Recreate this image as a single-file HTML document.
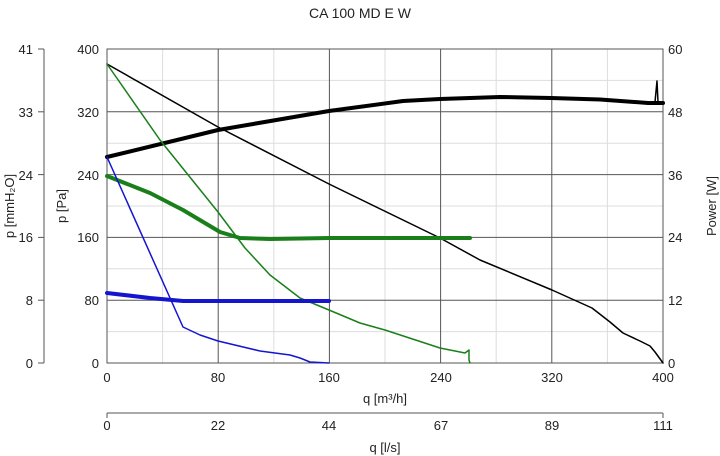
<!DOCTYPE html>
<html><head><meta charset="utf-8"><style>
body{margin:0;background:#fff;}
svg{display:block;font-family:"Liberation Sans",sans-serif;}
</style></head><body>
<svg width="720" height="456" xmlns="http://www.w3.org/2000/svg">
<rect width="720" height="456" fill="#fff"/>
<text x="360" y="18" font-size="14" text-anchor="middle" fill="#222">CA 100 MD E W</text>
<g stroke="#ddd" stroke-width="1">
<line x1="162.6" y1="49" x2="162.6" y2="363"/><line x1="273.8" y1="49" x2="273.8" y2="363"/>
<line x1="385" y1="49" x2="385" y2="363"/><line x1="496.2" y1="49" x2="496.2" y2="363"/>
<line x1="607.4" y1="49" x2="607.4" y2="363"/>
<line x1="107" y1="80.4" x2="663" y2="80.4"/><line x1="107" y1="143.2" x2="663" y2="143.2"/>
<line x1="107" y1="206" x2="663" y2="206"/><line x1="107" y1="268.8" x2="663" y2="268.8"/>
<line x1="107" y1="331.6" x2="663" y2="331.6"/>
</g>
<g stroke="#555" stroke-width="1">
<line x1="218.2" y1="49" x2="218.2" y2="363"/><line x1="329.4" y1="49" x2="329.4" y2="363"/>
<line x1="440.6" y1="49" x2="440.6" y2="363"/><line x1="551.8" y1="49" x2="551.8" y2="363"/>
<line x1="107" y1="111.8" x2="663" y2="111.8"/><line x1="107" y1="174.6" x2="663" y2="174.6"/>
<line x1="107" y1="237.4" x2="663" y2="237.4"/><line x1="107" y1="300.2" x2="663" y2="300.2"/>
<rect x="107" y="49" width="556" height="314" fill="none"/>
<line x1="44" y1="49" x2="44" y2="363"/>
<line x1="38" y1="49" x2="44" y2="49"/><line x1="38" y1="111.8" x2="44" y2="111.8"/><line x1="38" y1="174.6" x2="44" y2="174.6"/><line x1="38" y1="237.4" x2="44" y2="237.4"/><line x1="38" y1="300.2" x2="44" y2="300.2"/><line x1="38" y1="363" x2="44" y2="363"/>
<line x1="107" y1="413" x2="663" y2="413"/>
<line x1="107" y1="413" x2="107" y2="418"/><line x1="663" y1="413" x2="663" y2="418"/>
</g>
<g font-size="13" fill="#222" text-anchor="end">
<text x="33" y="54">41</text><text x="33" y="117">33</text><text x="33" y="180">24</text><text x="33" y="242">16</text><text x="33" y="305">8</text><text x="33" y="368">0</text>
<text x="99" y="54">400</text><text x="99" y="117">320</text><text x="99" y="180">240</text><text x="99" y="242">160</text><text x="99" y="305">80</text><text x="99" y="368">0</text>
</g>
<g font-size="13" fill="#222" text-anchor="start">
<text x="668" y="54">60</text><text x="668" y="117">48</text><text x="668" y="180">36</text><text x="668" y="242">24</text><text x="668" y="305">12</text><text x="668" y="368">0</text>
</g>
<g font-size="13" fill="#222" text-anchor="middle">
<text x="107" y="382">0</text><text x="218" y="382">80</text><text x="329" y="382">160</text><text x="441" y="382">240</text><text x="552" y="382">320</text><text x="663" y="382">400</text>
<text x="385" y="403">q [m³/h]</text>
<text x="107" y="430">0</text><text x="218" y="430">22</text><text x="329" y="430">44</text><text x="441" y="430">67</text><text x="552" y="430">89</text><text x="663" y="430">111</text>
<text x="385" y="452">q [l/s]</text>
<text transform="translate(14,206) rotate(-90)">p [mmH₂O]</text>
<text transform="translate(66,206) rotate(-90)">p [Pa]</text>
<text transform="translate(716,206) rotate(-90)">Power [W]</text>
</g>
<g fill="none" stroke-linejoin="round" stroke-linecap="round">
<polyline stroke="#000" stroke-width="1.5" points="107,64 218,127 329,184 440,238 480,260 552,290 592,308 610,322 623,333 640,341 650,346 655,352 663,363"/>
<polyline stroke="#000" stroke-width="4" points="107,157 218,130 329,111 403,101 440,99 500,97 551,98 600,99.5 648,103 663,103"/>
<polyline stroke="#000" stroke-width="1.5" points="655,102 657,81 658,102"/>
<polyline stroke="#1a7f1a" stroke-width="4" points="107,176 150,193 183,210 220,232 240,238 270,239 330,238 400,238 470,238"/>
<polyline stroke="#1a7f1a" stroke-width="1.5" points="107,64 160,140 218,212 245,248 270,275 300,298 329,310 360,323 385,330 440,348 465,353 469,350 469,360 470,363"/>
<polyline stroke="#1515d0" stroke-width="1.5" points="107,157 183,327 200,335 218,341 260,351 290,355 300,358 310,362 329,363"/>
<polyline stroke="#1515d0" stroke-width="4" points="107,293 150,298 183,301 230,301 280,301 329,301"/>
</g>
</svg>
</body></html>
